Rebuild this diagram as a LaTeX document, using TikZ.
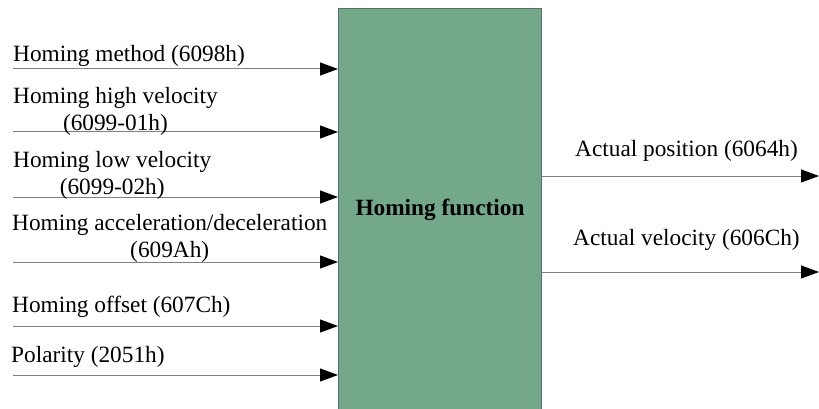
\documentclass[tikz,border=0pt]{standalone}
\usepackage{fontspec}
\setmainfont{Liberation Serif}
\usetikzlibrary{arrows.meta}
\definecolor{homegreen}{RGB}{115,168,138}
\definecolor{homeedge}{RGB}{88,112,98}
\tikzset{
	sigline/.style={draw=gray, line width=1pt,
		-{Triangle[length=18pt,width=13pt,color=black]}},
	siglabel/.style={inner sep=0pt, anchor=base west},
	sigpair/.style={inner sep=0pt, anchor=north west, align=center},
}
\begin{document}
\begin{tikzpicture}[x=1pt, y=-1pt, font=\fontsize{23.3}{27.5}\selectfont]
	\useasboundingbox (0,0) rectangle (819,409);
	% central block
	\node[fill=homegreen, draw=homeedge, line width=1pt,
	minimum width=203pt, minimum height=402pt, anchor=north west,
	font=\fontsize{23.3}{27.5}\selectfont\bfseries] (homing) at (338,8) {Homing function};
	
	% inputs
	\coordinate (in1) at (13,69);
	\coordinate (in2) at (13,132);
	\coordinate (in3) at (13,197);
	\coordinate (in4) at (13,262);
	\coordinate (in5) at (13,326);
	\coordinate (in6) at (13,375);
	\draw[sigline] (in1) -- (in1 -| homing.west);
	\draw[sigline] (in2) -- (in2 -| homing.west);
	\draw[sigline] (in3) -- (in3 -| homing.west);
	\draw[sigline] (in4) -- (in4 -| homing.west);
	\draw[sigline] (in5) -- (in5 -| homing.west);
	\draw[sigline] (in6) -- (in6 -| homing.west);
	
	\node[siglabel] (method) at (13,62) {Homing method (6098h)};
	\node[sigpair] (highvel) at (13,87) {Homing high velocity\\(6099-01h)};
	\node[sigpair] (lowvel) at (13,151) {Homing low velocity\\(6099-02h)};
	\node[sigpair] (accdec) at (12,214) {Homing acceleration/deceleration\\(609Ah)};
	\node[siglabel] (offset) at (12,312) {Homing offset (607Ch)};
	\node[siglabel] (polarity) at (11,362) {Polarity (2051h)};
	
	% outputs
	\coordinate (out1) at (819,176);
	\coordinate (out2) at (819,272);
	\draw[sigline] (homing.east |- out1) -- (out1);
	\draw[sigline] (homing.east |- out2) -- (out2);
	
	\node[siglabel] (actpos) at (575,157) {Actual position (6064h)};
	\node[siglabel] (actvel) at (573,245) {Actual velocity (606Ch)};
\end{tikzpicture}
\end{document}
